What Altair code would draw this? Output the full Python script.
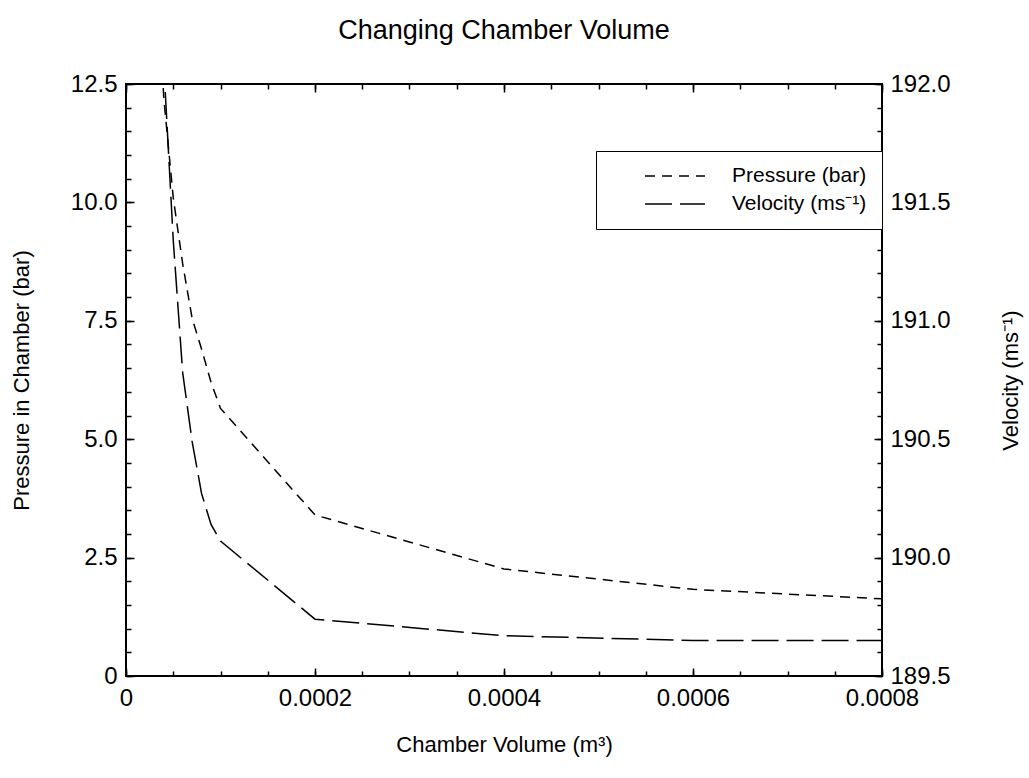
import altair as alt
import pandas as pd

# ---- data ----
volume = [0.00003, 0.00004, 0.00005, 0.00006, 0.00007, 0.00008, 0.00009,
          0.0001, 0.0002, 0.0004, 0.0006, 0.0008]
pressure = [16.0, 12.2, 10.1, 8.7, 7.55, 6.9, 6.2, 5.65, 3.4, 2.26, 1.83, 1.63]
velocity = [193.0, 192.08, 191.34, 190.78, 190.49, 190.27, 190.14, 190.07,
            189.74, 189.67, 189.65, 189.65]
series_names = ["Pressure (bar)", "Velocity (ms⁻¹)"]

x_labels = [0, 0.0002, 0.0004, 0.0006, 0.0008]
x_minor = [0, 0.00005, 0.0001, 0.00015, 0.0002, 0.00025, 0.0003, 0.00035, 0.0004,
           0.00045, 0.0005, 0.00055, 0.0006, 0.00065, 0.0007, 0.00075, 0.0008]
p_labels = [0, 2.5, 5.0, 7.5, 10.0, 12.5]
p_minor = [0, 0.5, 1.0, 1.5, 2.0, 2.5, 3.0, 3.5, 4.0, 4.5, 5.0, 5.5, 6.0, 6.5, 7.0,
           7.5, 8.0, 8.5, 9.0, 9.5, 10.0, 10.5, 11.0, 11.5, 12.0, 12.5]
v_labels = [189.5, 190.0, 190.5, 191.0, 191.5, 192.0]
v_minor = [189.5, 189.6, 189.7, 189.8, 189.9, 190.0, 190.1, 190.2, 190.3, 190.4, 190.5,
           190.6, 190.7, 190.8, 190.9, 191.0, 191.1, 191.2, 191.3, 191.4, 191.5,
           191.6, 191.7, 191.8, 191.9, 192.0]

df_p = pd.DataFrame({"volume": volume, "value": pressure, "series": series_names[0]})
df_v = pd.DataFrame({"volume": volume, "value": velocity, "series": series_names[1]})

FONT = "Liberation Sans"
W, H = 756, 592
TICK_FS = 24
TITLE_FS = 22

xscale = alt.Scale(domain=[0, 0.0008], nice=False, zero=False)
pscale = alt.Scale(domain=[0, 12.5], nice=False, zero=False)
vscale = alt.Scale(domain=[189.5, 192.0], nice=False, zero=False)

dash = alt.StrokeDash(
    "series:N",
    scale=alt.Scale(domain=series_names, range=[[10, 7], [27, 8]]),
    legend=alt.Legend(
        title=None, orient="none", legendX=470, legendY=67,
        symbolType="stroke", symbolSize=3600, symbolStrokeWidth=1.5,
        symbolStrokeColor="black", strokeColor="black", fillColor="white",
        padding=15, symbolOffset=33, labelOffset=26, labelFontSize=21,
        labelFont=FONT, labelColor="black", clipHeight=20, rowPadding=7,
    ),
)

def tick_axis(orient, values, size):
    return alt.Axis(orient=orient, values=values, labels=False, domain=False,
                    ticks=True, tickSize=size, offset=-size, tickWidth=1.5,
                    tickColor="black", grid=False, title=None)

pressure_line = alt.Chart(df_p).mark_line(color="black", strokeWidth=1.5, clip=True).encode(
    x=alt.X("volume:Q", scale=xscale, axis=alt.Axis(
        orient="bottom", values=x_labels, domain=False, ticks=False, tickSize=0,
        labelExpr="datum.value == 0 ? '0' : format(datum.value, '.4f')",
        labelFontSize=TICK_FS, labelFont=FONT, labelColor="black", labelPadding=10,
        labelFlush=False, labelOverlap=False,
        title="Chamber Volume (m³)", titleFontSize=TITLE_FS, titleFont=FONT,
        titleFontWeight="normal", titleColor="black", titlePadding=24, grid=False)),
    y=alt.Y("value:Q", scale=pscale, axis=alt.Axis(
        orient="left", values=p_labels, domain=False, ticks=False, tickSize=0,
        labelExpr="datum.value == 0 ? '0' : format(datum.value, '.1f')",
        labelFontSize=TICK_FS, labelFont=FONT, labelColor="black", labelPadding=9,
        labelFlush=False, labelOverlap=False,
        title="Pressure in Chamber (bar)", titleFontSize=TITLE_FS, titleFont=FONT,
        titleFontWeight="normal", titleColor="black", titlePadding=37, grid=False)),
    strokeDash=dash,
)

velocity_line = alt.Chart(df_v).mark_line(color="black", strokeWidth=1.5, clip=True).encode(
    x=alt.X("volume:Q", scale=xscale, axis=None),
    y=alt.Y("value:Q", scale=vscale, axis=alt.Axis(
        orient="right", values=v_labels, domain=False, ticks=False, tickSize=0,
        format=".1f", labelFontSize=TICK_FS, labelFont=FONT, labelColor="black",
        labelPadding=8, labelFlush=False, labelOverlap=False,
        title="Velocity (ms⁻¹)", titleFontSize=TITLE_FS, titleFont=FONT,
        titleFontWeight="normal", titleColor="black", titlePadding=50,
        titleAngle=270, titleBaseline="top", grid=False)),
    strokeDash=dash,
)

def tick_layer(xaxis, yaxis, yscale, data):
    return alt.Chart(data).mark_point(opacity=0, clip=True).encode(
        x=alt.X("volume:Q", scale=xscale, axis=xaxis),
        y=alt.Y("value:Q", scale=yscale, axis=yaxis),
    )

t1 = tick_layer(tick_axis("bottom", x_minor, 5), tick_axis("left", p_minor, 5), pscale, df_p)
t2 = tick_layer(tick_axis("bottom", x_labels, 8), tick_axis("left", p_labels, 8), pscale, df_p)
t3 = tick_layer(tick_axis("top", x_minor, 5), tick_axis("right", v_minor, 5), vscale, df_v)
t4 = tick_layer(tick_axis("top", x_labels, 8), tick_axis("right", v_labels, 8), vscale, df_v)

chart = alt.layer(pressure_line, velocity_line, t1, t2, t3, t4).resolve_scale(
    x="independent", y="independent"
).resolve_axis(
    x="independent", y="independent"
).properties(
    width=W, height=H,
    title=alt.TitleParams("Changing Chamber Volume", fontSize=27, font=FONT,
                          fontWeight="normal", color="black", anchor="middle",
                          offset=27),
    padding={"left": 10, "top": 17, "right": 5, "bottom": 5},
).configure_view(stroke="black", strokeWidth=2)

chart.save("out.html", embed_options={"renderer": "svg", "actions": False})
